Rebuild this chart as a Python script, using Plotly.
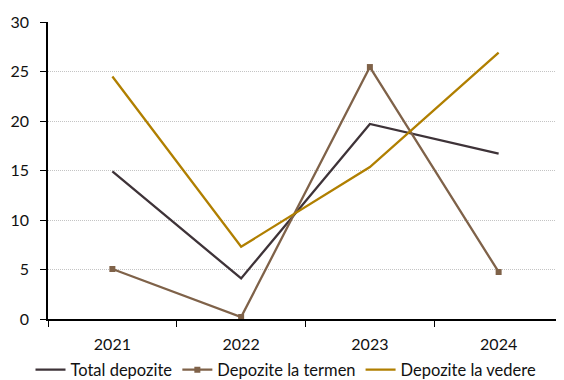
import plotly.graph_objects as go

years = ["2021", "2022", "2023", "2024"]
total_depozite = [14.9, 4.1, 19.7, 16.7]
depozite_termen = [5.05, 0.2, 25.45, 4.75]
depozite_vedere = [24.5, 7.3, 15.35, 26.9]
y_ticks = [0, 5, 10, 15, 20, 25, 30]

fig = go.Figure()

fig.add_trace(go.Scatter(
    x=years, y=total_depozite, name="Total depozite",
    mode="lines", line=dict(color="#3e3338", width=2.3)
))
fig.add_trace(go.Scatter(
    x=years, y=depozite_termen, name="Depozite la termen",
    mode="lines+markers", line=dict(color="#7f6249", width=2.3),
    marker=dict(symbol="square", size=6, color="#7f6249")
))
fig.add_trace(go.Scatter(
    x=years, y=depozite_vedere, name="Depozite la vedere",
    mode="lines", line=dict(color="#b07f00", width=2.3)
))

# page body has an 8px margin, so the figure is 8px smaller and shifted
fig.update_layout(
    width=556, height=372,
    margin=dict(l=40, r=1, t=14, b=61, autoexpand=False),
    plot_bgcolor="white", paper_bgcolor="white",
    font=dict(family="Lato", size=16, color="#111111"),
    showlegend=True,
    legend=dict(
        orientation="h", xref="container", yref="container",
        x=0.5, xanchor="center", y=0.027, yanchor="middle",
        font=dict(size=16.5), tracegroupgap=0, bgcolor="rgba(0,0,0,0)"
    ),
    xaxis=dict(
        type="category", tickson="boundaries", ticks="outside", ticklen=6,
        tickcolor="black", showline=True, linecolor="black", linewidth=1.5,
        showgrid=False, range=[-0.5, 3.5], automargin=False,
        ticklabelstandoff=10
    ),
    yaxis=dict(
        range=[0, 30], tickvals=y_ticks, ticks="outside", ticklen=6,
        tickcolor="black", showline=True, linecolor="black", linewidth=1.5,
        gridcolor="#c4c4c4", griddash="1px,1px", gridwidth=1, zeroline=False,
        automargin=False, ticklabelstandoff=8
    ),
)

fig.write_html("out.html")
